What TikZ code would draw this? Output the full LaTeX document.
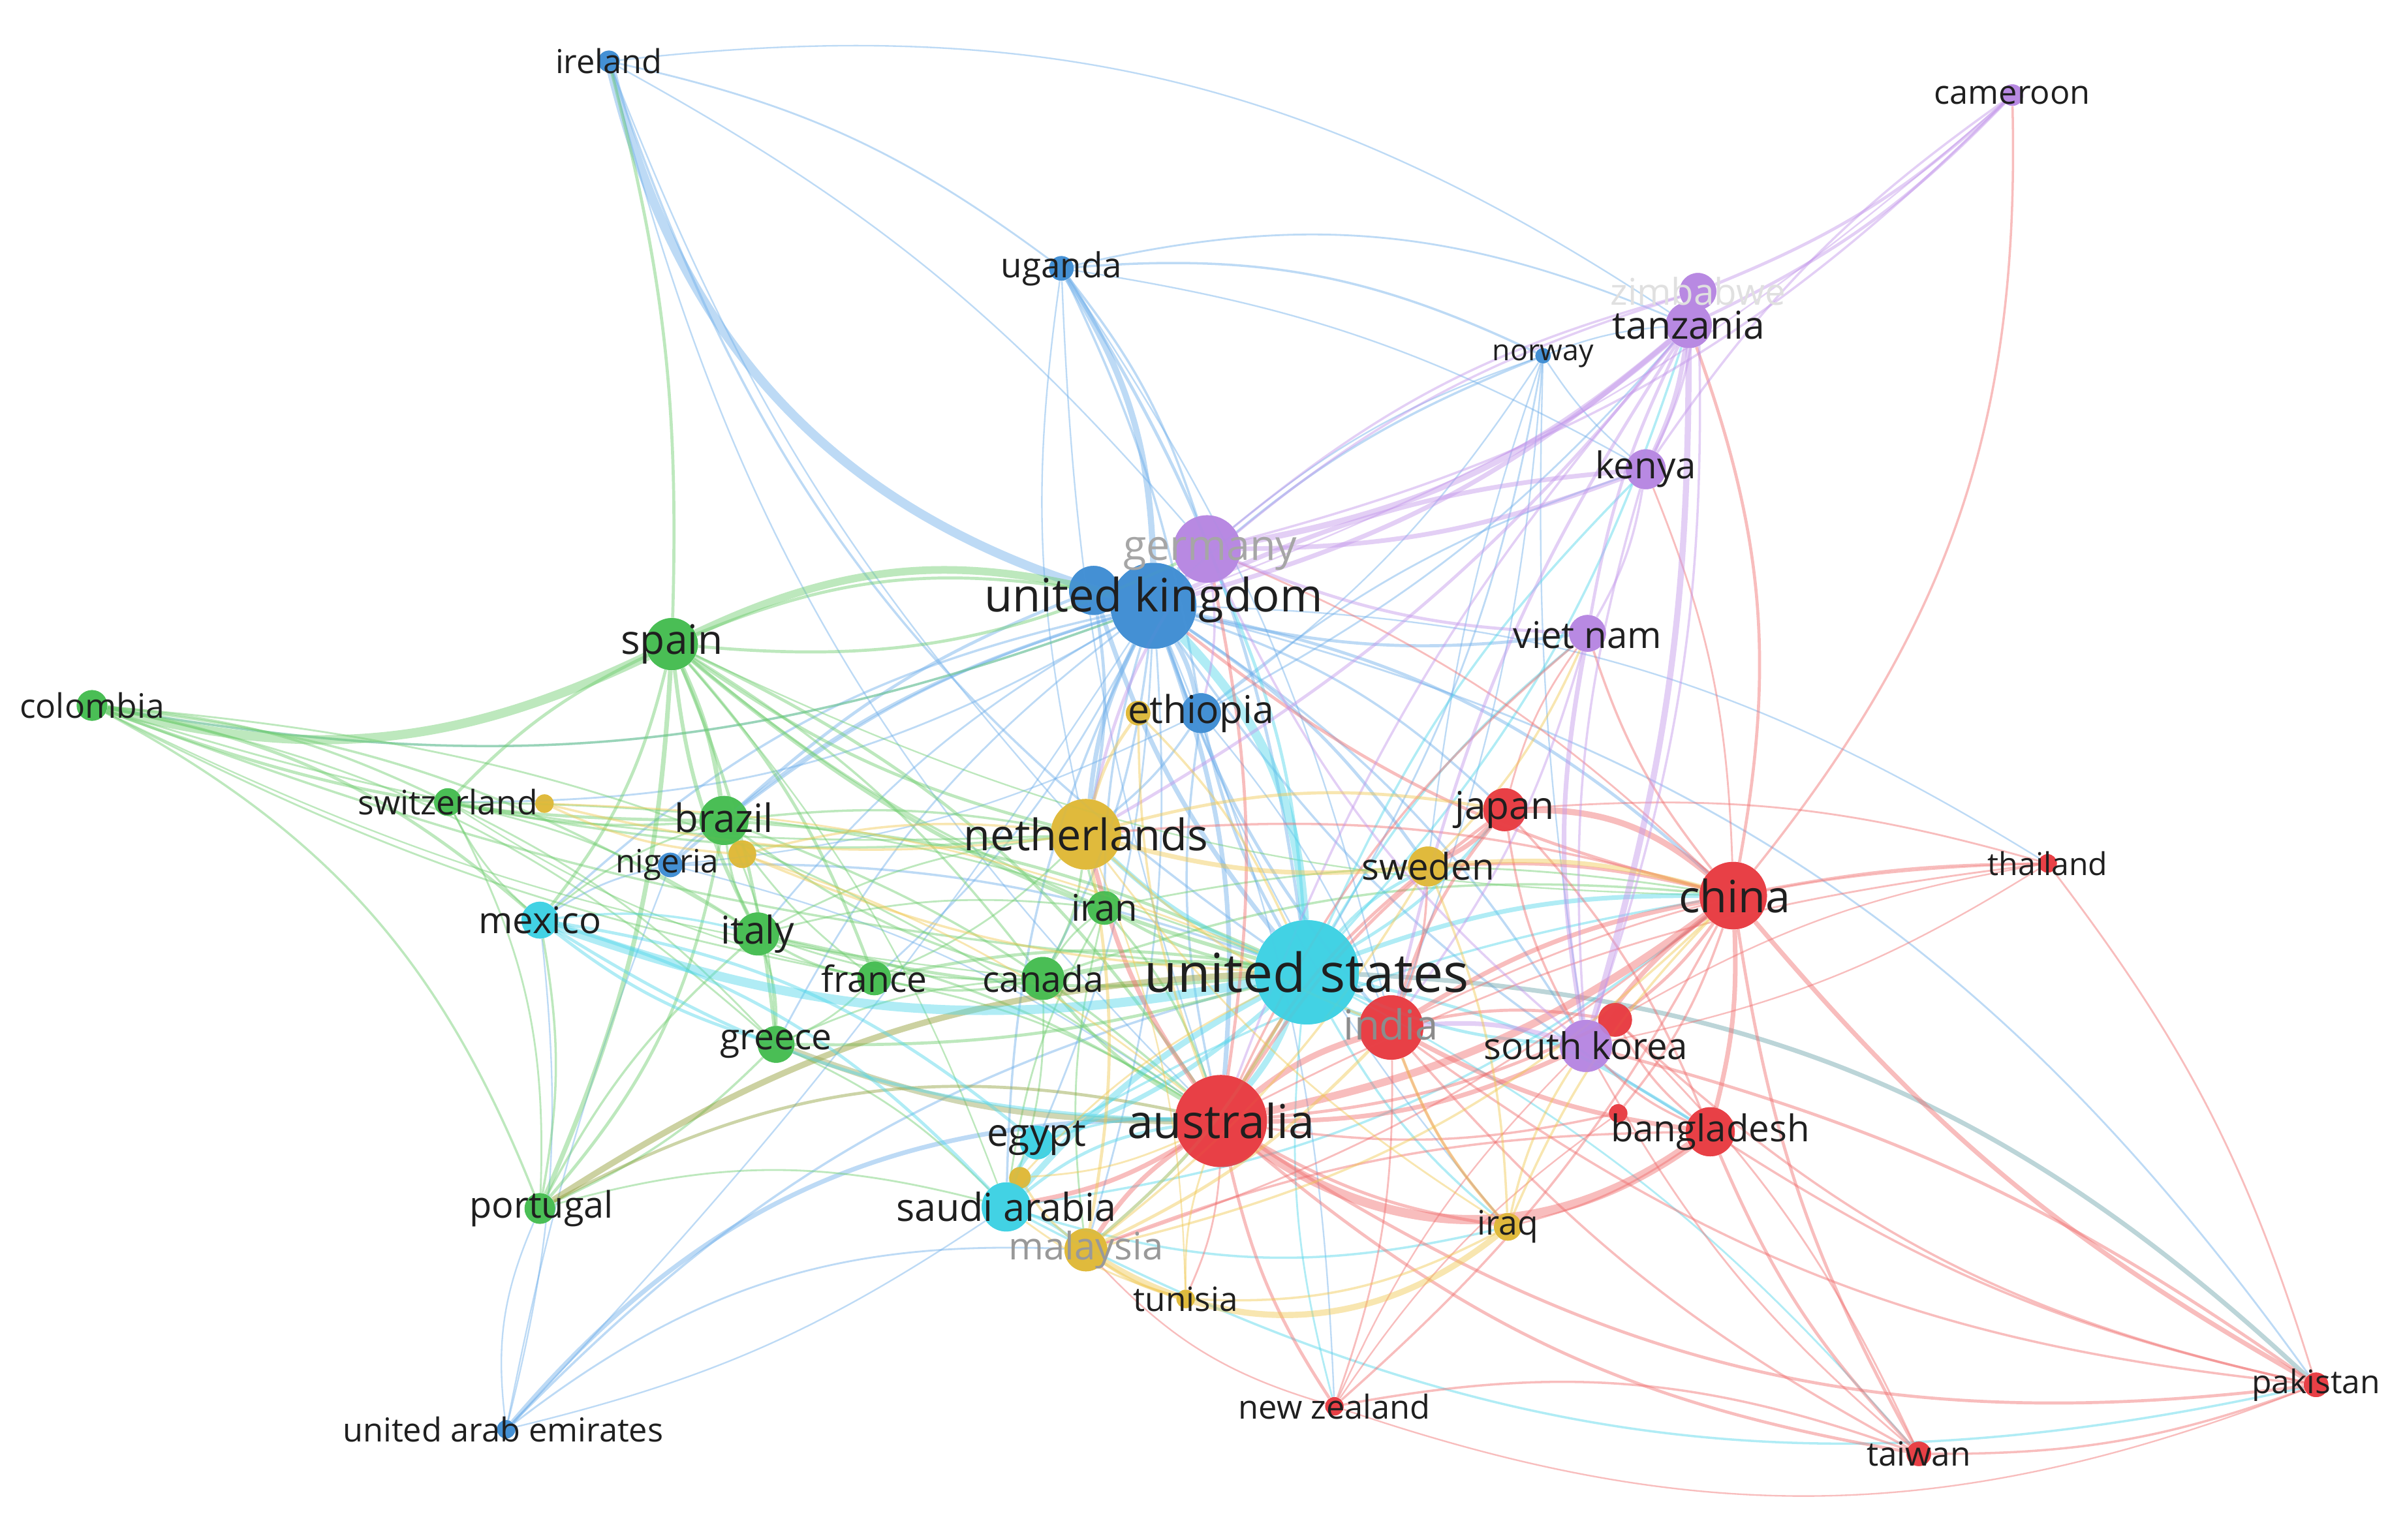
\documentclass[tikz,border=0pt]{standalone}
\usepackage{fontspec}
\setmainfont{Open Sans}
\definecolor{cR}{RGB}{232,62,68}
\definecolor{cG}{RGB}{72,190,84}
\definecolor{cB}{RGB}{66,143,212}
\definecolor{cY}{RGB}{224,186,58}
\definecolor{cP}{RGB}{184,136,226}
\definecolor{cC}{RGB}{64,210,228}
\definecolor{eR}{RGB}{240,110,110}
\definecolor{eG}{RGB}{110,205,110}
\definecolor{eB}{RGB}{110,175,235}
\definecolor{eY}{RGB}{240,200,80}
\definecolor{eP}{RGB}{195,150,235}
\definecolor{eC}{RGB}{80,215,235}
\newcommand\fsz[1]{\fontsize{#1}{#1}\selectfont}
\begin{document}
\begin{tikzpicture}[x=1pt,y=1pt,
  nd/.style={circle,inner sep=0pt,draw=none,fill=#1,fill opacity=0.9},
  lb/.style={inner sep=0pt,text=black!88},
  lbf/.style={inner sep=0pt,text=black!#1},
  edge/.style={draw=#1,draw opacity=0.45},
]
\fill[white] (0,0) rectangle (1568,-1004);
\useasboundingbox (0,0) rectangle (1568,-1004);
% nodes (positions)
\path
 (397,-40) node[nd=cB,minimum size=14] (ireland) {}
 (692,-175) node[nd=cB,minimum size=16] (uganda) {}
 (1006,-232) node[nd=cB,minimum size=10] (norway) {}
 (713,-385) node[nd=cB,minimum size=32] (ukb) {}
 (752,-395) node[nd=cB,minimum size=56] (uk) {}
 (742,-465) node[nd=cY,minimum size=16] (ethy) {}
 (783,-465) node[nd=cB,minimum size=26] (ethiopia) {}
 (437,-564) node[nd=cB,minimum size=16] (nigeria) {}
 (330,-932) node[nd=cB,minimum size=12] (uae) {}
 (438,-420) node[nd=cG,minimum size=34] (spain) {}
 (60,-460) node[nd=cG,minimum size=20] (colombia) {}
 (292,-523) node[nd=cG,minimum size=18] (switzerland) {}
 (355,-524) node[nd=cY,minimum size=12] (swiy) {}
 (472,-535) node[nd=cG,minimum size=32] (brazil) {}
 (484,-557) node[nd=cY,minimum size=18] (niy) {}
 (352,-600) node[nd=cC,minimum size=24] (mexico) {}
 (494,-609) node[nd=cG,minimum size=28] (italy) {}
 (570,-638) node[nd=cG,minimum size=22] (france) {}
 (680,-638) node[nd=cG,minimum size=28] (canada) {}
 (720,-592) node[nd=cG,minimum size=22] (iran) {}
 (506,-681) node[nd=cG,minimum size=24] (greece) {}
 (352,-788) node[nd=cG,minimum size=20] (portugal) {}
 (708,-544) node[nd=cY,minimum size=46] (netherlands) {}
 (931,-565) node[nd=cY,minimum size=26] (sweden) {}
 (852,-634) node[nd=cC,minimum size=68] (us) {}
 (676,-745) node[nd=cC,minimum size=22] (egypt) {}
 (665,-768) node[nd=cY,minimum size=14] (egy) {}
 (656,-787) node[nd=cC,minimum size=32] (saudi) {}
 (708,-815) node[nd=cY,minimum size=28] (malaysia) {}
 (773,-847) node[nd=cY,minimum size=12] (tunisia) {}
 (983,-800) node[nd=cY,minimum size=18] (iraq) {}
 (796,-731) node[nd=cR,minimum size=60] (australia) {}
 (907,-670) node[nd=cR,minimum size=42] (india) {}
 (981,-528) node[nd=cR,minimum size=28] (japan) {}
 (1130,-584) node[nd=cR,minimum size=44] (china) {}
 (1335,-563) node[nd=cR,minimum size=12] (thailand) {}
 (1115,-738) node[nd=cR,minimum size=32] (bangladesh) {}
 (1053,-665) node[nd=cR,minimum size=22] (skr) {}
 (1055,-726) node[nd=cR,minimum size=12] (bgr) {}
 (870,-917) node[nd=cR,minimum size=12] (newzealand) {}
 (1251,-948) node[nd=cR,minimum size=16] (taiwan) {}
 (1510,-903) node[nd=cR,minimum size=16] (pakistan) {}
 (1312,-62) node[nd=cP,minimum size=14] (cameroon) {}
 (1107,-190) node[nd=cP,minimum size=24] (zimbabwe) {}
 (1101,-212) node[nd=cP,minimum size=30] (tanzania) {}
 (1073,-306) node[nd=cP,minimum size=26] (kenya) {}
 (787,-358) node[nd=cP,minimum size=44] (germany) {}
 (1035,-413) node[nd=cP,minimum size=24] (vietnam) {}
 (1034,-682) node[nd=cP,minimum size=34] (southkorea) {};
% edges
\foreach \a/\b/\w/\k in {
ireland/uk/6/-30, ireland/uganda/1.2/12, ireland/us/1.5/-18, ireland/tanzania/1/20, ireland/germany/1/10, ireland/netherlands/1/-10, ireland/australia/1/-15,
uganda/uk/4/15, uganda/us/2/12, uganda/norway/1.5/15, uganda/tanzania/1.2/18, uganda/netherlands/1/-10, uganda/ethiopia/1.5/8, uganda/kenya/1/10, uganda/australia/1/-8, uganda/germany/1.5/10, uganda/india/1/10,
norway/uk/1.5/-10, norway/tanzania/1/8, norway/kenya/1/-8, norway/us/1.2/10, norway/southkorea/1/-5, norway/india/1/8, norway/sweden/1/-6, norway/ethiopia/1/10, norway/germany/1/-10,
uk/ethiopia/3/8, uk/netherlands/3/-10, uk/australia/3/12, uk/germany/3/10, uk/nigeria/2/-12, uk/brazil/1.5/-10, uk/italy/1.2/-10, uk/france/1.2/10, uk/canada/1.5/10, uk/greece/1.2/-12, uk/mexico/1.5/-15, uk/colombia/1.5/15, uk/china/2/15, uk/india/2/-10, uk/japan/1.5/12, uk/sweden/2/10, uk/southkorea/1.5/12, uk/bangladesh/1.5/-12, uk/vietnam/2/-10, uk/saudi/1.5/-12, uk/egypt/1.2/10, uk/malaysia/1.2/10, uk/iran/1.5/-8, uk/switzerland/1.2/15, uk/pakistan/1.2/20, uk/newzealand/1/10, uk/thailand/1/15, uk/iraq/1/-10,
ukb/us/3/-10, ukb/brazil/2/-10, ukb/netherlands/2/10,
nigeria/us/1.5/10, nigeria/brazil/1.5/10, nigeria/mexico/1.2/-10, nigeria/ethiopia/1/-10, nigeria/australia/1/10, nigeria/uae/1/-5,
uae/australia/3/25, uae/mexico/1/-10, uae/portugal/1/15, uae/malaysia/1.2/20, uae/saudi/1/-10, uae/uk/1/-5, uae/us/1.5/15,
ethiopia/us/2/-8, ethiopia/netherlands/1.5/8, ethiopia/tanzania/1.2/-10, ethiopia/kenya/1.2/10, ethiopia/australia/1.5/-10, ethiopia/india/1/8}
  {\draw[edge=eB,line width=\w pt] (\a) to[bend left=\k] (\b);}
\foreach \a/\b/\w/\k in {
spain/uk/5/20, spain/colombia/6/20, spain/portugal/3/10, spain/brazil/3/8, spain/italy/2.5/-10, spain/mexico/2/12, spain/switzerland/2/-10, spain/france/2/10, spain/greece/2/8, spain/us/2.5/-12, spain/netherlands/2/-10, spain/australia/2/15, spain/canada/1.5/10, spain/iran/1.5/-8, spain/china/1/-12, spain/germany/2/-15, spain/saudi/1/10, spain/ireland/2/-8, ukb/spain/2/-15,
colombia/brazil/2/-10, colombia/mexico/2/15, colombia/switzerland/1.5/10, colombia/italy/1.5/12, colombia/france/1.2/-8, colombia/portugal/1.5/20, colombia/greece/1.2/15, colombia/us/1.5/-8, colombia/netherlands/1.2/-10, colombia/uk/1.5/-15, colombia/australia/1.2/15, colombia/canada/1/-10,
switzerland/brazil/1.5/-8, switzerland/italy/1.2/10, switzerland/mexico/1.2/-10, switzerland/netherlands/1.5/-8, switzerland/us/1.2/10, switzerland/portugal/1.2/15, switzerland/greece/1.2/10, switzerland/france/1/-10,
brazil/us/2/10, brazil/italy/1.5/-10, brazil/netherlands/1.5/8, brazil/portugal/2/15, brazil/canada/1.5/-10, brazil/australia/1.5/10, brazil/france/1.2/-8, brazil/mexico/1.2/-10, brazil/greece/1.2/10,
italy/us/2/-10, italy/greece/1.5/10, italy/france/1.5/-10, italy/netherlands/1.2/10, italy/portugal/1.5/-10, italy/australia/1.5/10, italy/canada/1.2/-10, italy/iran/1.2/10,
france/us/2/10, france/canada/1.5/-12, france/greece/1.2/10, france/netherlands/1.2/-10, france/australia/1.2/10,
canada/us/3/8, canada/australia/2/-10, canada/netherlands/1.5/-10, canada/china/1.5/12, canada/iran/1.2/10, canada/greece/1.2/-10, canada/saudi/1.2/10,
iran/us/2/-10, iran/netherlands/1.5/10, iran/australia/1.5/10, iran/malaysia/1.2/-10, iran/china/1.2/10, iran/saudi/1.2/-10,
greece/us/2/-8, greece/portugal/1.5/10, greece/saudi/1.2/10,
portugal/mexico/1.5/-10, portugal/saudi/1.2/15}
  {\draw[edge=eG,line width=\w pt] (\a) to[bend left=\k] (\b);}
\draw[edge=olive!60!eG,line width=4pt] (portugal) to[bend left=15] (us);
\draw[edge=brown!50!eG,line width=4pt] (greece) to[bend left=-10] (australia);
\draw[edge=olive!50!eG,line width=2pt] (portugal) to[bend left=20] (australia);
\foreach \a/\b/\w/\k in {
mexico/us/6/-15, us/saudi/4/-10, us/egypt/3/10, us/australia/4/8, us/india/3/-10, us/china/3/10, us/netherlands/3/10, us/japan/2/-10, us/sweden/2/10, us/southkorea/2/-10, us/bangladesh/2/10, us/germany/2/-10, us/tanzania/1.5/-12, us/kenya/1.5/10, us/uk/6/-20, us/vietnam/1.5/10, us/malaysia/2/10, us/iraq/1.5/-10, us/taiwan/1.2/10, us/newzealand/1.2/-10,
saudi/egypt/3/10, saudi/mexico/2/-15, saudi/malaysia/2/10, saudi/australia/2/15, saudi/china/1.5/-15, saudi/pakistan/1.5/-20, saudi/iraq/1.5/-15,
egypt/mexico/2/-15, egypt/australia/1.5/10, egypt/china/1.5/10,
mexico/italy/1.5/10, mexico/greece/2/-10, mexico/australia/2/-15}
  {\draw[edge=eC,line width=\w pt] (\a) to[bend left=\k] (\b);}
\draw[edge=gray!60!eC,line width=3pt] (us) to[bend left=20] (pakistan);
\foreach \a/\b/\w/\k in {
australia/china/5/-12, australia/bangladesh/6/-35, australia/india/4/10, australia/southkorea/3/-12, australia/japan/2/10, australia/pakistan/2/-20, australia/taiwan/2/-15, australia/newzealand/2/-10, australia/malaysia/3/-10, australia/saudi/3/10, australia/iraq/2/-10, australia/tunisia/1.2/10, australia/sweden/2/10, australia/netherlands/3/10, australia/germany/2/-10, australia/vietnam/1.5/12, australia/thailand/1.2/10, australia/skr/2/-10,
japan/china/4/20, china/pakistan/3/-10, china/taiwan/2/-10, china/bangladesh/3/8, china/southkorea/3/-8, china/india/3/-10, china/thailand/1.5/5, china/uk/2/12, china/tanzania/2/-15, china/kenya/1.2/-10, china/cameroon/1.5/-20, china/sweden/2/-8, china/newzealand/1.5/10, china/vietnam/1.5/10, china/netherlands/1.5/-10, china/germany/1.2/-10, china/skr/2/8, china/malaysia/1.2/10,
india/bangladesh/3/-10, india/japan/2/10, india/sweden/1.5/-10, india/pakistan/1.5/-15, india/taiwan/1.5/-10, india/newzealand/1.2/10, india/iraq/1.5/-10, india/skr/2/10, india/thailand/1.2/12,
japan/sweden/3/10, japan/southkorea/1.5/-10, japan/bangladesh/1.5/10, japan/thailand/1.2/10, japan/vietnam/1.2/10,
bangladesh/pakistan/1.5/-10, bangladesh/taiwan/2/-10, bangladesh/southkorea/1.5/10, bangladesh/iraq/1.2/10, bangladesh/malaysia/1.5/-10, bangladesh/skr/1.5/10,
taiwan/pakistan/1.5/-10, taiwan/newzealand/1.5/-15, taiwan/southkorea/1.2/10, taiwan/skr/1.2/-10,
newzealand/pakistan/1/-20, newzealand/southkorea/1/10, newzealand/malaysia/1/15, newzealand/bgr/1/10,
pakistan/thailand/1.2/-10, pakistan/southkorea/2/-10, pakistan/skr/1.5/15, thailand/southkorea/1/10, thailand/skr/1/-10,
bgr/china/1.5/-10, bgr/australia/1.5/10, skr/southkorea/1.5/10}
  {\draw[edge=eR,line width=\w pt] (\a) to[bend left=\k] (\b);}
\foreach \a/\b/\w/\k in {
tanzania/germany/4/15, tanzania/kenya/3/8, tanzania/uk/3/12, tanzania/zimbabwe/2/10, tanzania/cameroon/2/-10, tanzania/vietnam/2/-8, tanzania/southkorea/4/8, tanzania/netherlands/2/10, tanzania/india/2/-10, tanzania/australia/1.5/-10,
kenya/germany/3/10, kenya/uk/3/-10, kenya/cameroon/1.5/10, kenya/zimbabwe/1.5/-10, kenya/southkorea/1.5/-10, kenya/vietnam/1.5/10,
germany/cameroon/1.5/-15, germany/vietnam/2/-10, germany/netherlands/2/-10, germany/southkorea/1.5/-12, germany/zimbabwe/1.5/12, germany/ethiopia/1.5/10,
vietnam/southkorea/3/-10, vietnam/india/1.5/10, southkorea/india/3/-10, cameroon/zimbabwe/2/10, cameroon/uk/1/10, zimbabwe/uk/1.5/-12, zimbabwe/southkorea/1.5/10}
  {\draw[edge=eP,line width=\w pt] (\a) to[bend left=\k] (\b);}
\foreach \a/\b/\w/\k in {
netherlands/sweden/3/-10, netherlands/malaysia/2/10, netherlands/swiy/1.5/10, netherlands/niy/1.5/-10, netherlands/japan/2/12, netherlands/ethy/2/10, netherlands/iraq/1.2/-10, netherlands/tunisia/1/10, netherlands/india/1.5/-10,
sweden/china/3/10, sweden/vietnam/1.5/-10, sweden/iraq/1.5/10, sweden/malaysia/1.5/10,
malaysia/iraq/4/-35, malaysia/tunisia/2/-10, malaysia/india/2/-10, malaysia/egy/1.5/10, malaysia/us/2/-10, malaysia/china/1.5/-15,
tunisia/iraq/1.5/-15, tunisia/australia/1.2/10, tunisia/saudi/1.2/10, iraq/india/2/10, iraq/china/1.5/10, iraq/southkorea/1.5/10,
swiy/niy/1.5/-10, swiy/us/1.2/10, niy/us/1.5/-10, niy/australia/1.2/10, ethy/us/1.5/10, ethy/australia/1.5/-10, egy/australia/1.2/-10, egy/us/1.2/10}
  {\draw[edge=eY,line width=\w pt] (\a) to[bend left=\k] (\b);}
% redraw node discs on top of edges
\foreach \n/\c/\r in {ireland/cB/7,uganda/cB/8,norway/cB/5,ukb/cB/16,uk/cB/28,ethy/cY/8,ethiopia/cB/13,nigeria/cB/8,uae/cB/6,spain/cG/17,colombia/cG/10,switzerland/cG/9,swiy/cY/6,brazil/cG/16,niy/cY/9,mexico/cC/12,italy/cG/14,france/cG/11,canada/cG/14,iran/cG/11,greece/cG/12,portugal/cG/10,netherlands/cY/23,sweden/cY/13,us/cC/34,egypt/cC/11,egy/cY/7,saudi/cC/16,malaysia/cY/14,tunisia/cY/6,iraq/cY/9,australia/cR/30,india/cR/21,japan/cR/14,china/cR/22,thailand/cR/6,bangladesh/cR/16,skr/cR/11,bgr/cR/6,newzealand/cR/6,taiwan/cR/8,pakistan/cR/8,cameroon/cP/7,zimbabwe/cP/12,tanzania/cP/15,kenya/cP/13,germany/cP/22,vietnam/cP/12,southkorea/cP/17}
  {\fill[\c,opacity=0.88] (\n.center) circle[radius=\r];}
% labels
\node[lb,font=\fsz{21.5}] (l-ireland) at (397,-40) {ireland};
\node[lb,font=\fsz{22.5}] (l-uganda) at (692,-175) {uganda};
\node[lb,font=\fsz{21.5}] (l-cameroon) at (1312,-62) {cameroon};
\node[lbf=12,font=\fsz{24}] (l-zimbabwe) at (1107,-190) {zimbabwe};
\node[lb,font=\fsz{25}] (l-tanzania) at (1101,-212) {tanzania};
\node[lb,font=\fsz{19}] (l-norway) at (1006,-232) {norway};
\node[lb,font=\fsz{24}] (l-kenya) at (1073,-306) {kenya};
\node[lbf=35,font=\fsz{27.5}] (l-germany) at (789,-361) {germany};
\node[lb,font=\fsz{30}] (l-uk) at (752,-391) {united kingdom};
\node[lb,font=\fsz{24}] (l-vietnam) at (1035,-414) {viet nam};
\node[lb,font=\fsz{26.5}] (l-spain) at (438,-420) {spain};
\node[lb,font=\fsz{22}] (l-colombia) at (60,-460) {colombia};
\node[lb,font=\fsz{25}] (l-ethiopia) at (783,-465) {ethiopia};
\node[lb,font=\fsz{22}] (l-switzerland) at (292,-523) {switzerland};
\node[lb,font=\fsz{25.5}] (l-brazil) at (472,-533) {brazil};
\node[lb,font=\fsz{25}] (l-japan) at (981,-528) {japan};
\node[lb,font=\fsz{28.3}] (l-netherlands) at (708,-544) {netherlands};
\node[lb,font=\fsz{21}] (l-nigeria) at (435,-564) {nigeria};
\node[lb,font=\fsz{24}] (l-sweden) at (931,-565) {sweden};
\node[lb,font=\fsz{20.5}] (l-thailand) at (1335,-563) {thailand};
\node[lb,font=\fsz{29}] (l-china) at (1131,-584) {china};
\node[lb,font=\fsz{24}] (l-iran) at (720,-592) {iran};
\node[lb,font=\fsz{24}] (l-mexico) at (352,-600) {mexico};
\node[lb,font=\fsz{25}] (l-italy) at (494,-609) {italy};
\node[lb,font=\fsz{23.5}] (l-france) at (570,-638) {france};
\node[lb,font=\fsz{23.5}] (l-canada) at (680,-638) {canada};
\node[lb,font=\fsz{35}] (l-us) at (852,-634) {united states};
\node[lbf=45,font=\fsz{27}] (l-india) at (907,-668) {india};
\node[lb,font=\fsz{24}] (l-southkorea) at (1034,-682) {south korea};
\node[lb,font=\fsz{23.5}] (l-greece) at (506,-681) {greece};
\node[lb,font=\fsz{30.5}] (l-australia) at (796,-731) {australia};
\node[lb,font=\fsz{24}] (l-bangladesh) at (1115,-738) {bangladesh};
\node[lb,font=\fsz{25}] (l-egypt) at (676,-742) {egypt};
\node[lb,font=\fsz{23.8}] (l-portugal) at (353,-788) {portugal};
\node[lb,font=\fsz{25.2}] (l-saudi) at (656,-787) {saudi arabia};
\node[lbf=40,font=\fsz{24.7}] (l-malaysia) at (708,-815) {malaysia};
\node[lb,font=\fsz{22}] (l-iraq) at (983,-800) {iraq};
\node[lb,font=\fsz{21.8}] (l-tunisia) at (773,-847) {tunisia};
\node[lb,font=\fsz{21.5}] (l-newzealand) at (870,-917) {new zealand};
\node[lb,font=\fsz{21.5}] (l-uae) at (328,-932) {united arab emirates};
\node[lb,font=\fsz{21.8}] (l-taiwan) at (1251,-948) {taiwan};
\node[lb,font=\fsz{21.2}] (l-pakistan) at (1510,-903) {pakistan};
\end{tikzpicture}
\end{document}
